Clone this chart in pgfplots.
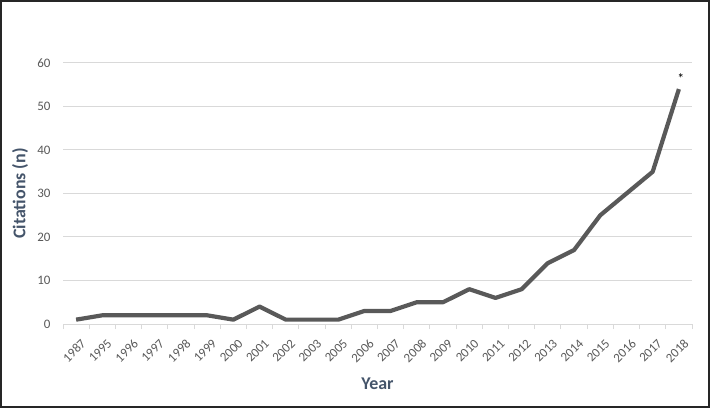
\documentclass[border=0pt]{standalone}
\usepackage{pgfplots}
\pgfplotsset{compat=1.18}
\usepackage{fontspec}
\setmainfont{Carlito}
\definecolor{linegray}{HTML}{595959}
\definecolor{gridgray}{HTML}{D9D9D9}
\definecolor{ticktext}{HTML}{595959}
\definecolor{titleblue}{HTML}{44546A}
\begin{document}
\begin{tikzpicture}
\path[use as bounding box] (0,0) rectangle (710bp,408bp);
\draw[line width=2bp, black!85] (1bp,1bp) rectangle (709bp,407bp);
\begin{axis}[
  at={(63bp,84bp)}, anchor=south west,
  scale only axis, width=629bp, height=261bp,
  xmin=-0.5, xmax=23.5, ymin=0, ymax=60,
  axis x line*=bottom, axis y line*=left,
  x axis line style={draw=gridgray, line width=1bp, -},
  y axis line style={draw=none},
  xtick={0,...,23},
  xticklabels={1987,1995,1996,1997,1998,1999,2000,2001,2002,2003,2005,2006,2007,2008,2009,2010,2011,2012,2013,2014,2015,2016,2017,2018},
  minor xtick={-0.5,0.5,...,23.5},
  major tick length=0pt,
  minor tick length=5bp,
  tick align=outside,
  minor x tick style={draw=gridgray, line width=1bp},
  ytick={0,10,...,60},
  ymajorgrids,
  grid style={draw=gridgray, line width=1bp},
  /pgf/number format/assume math mode=true,
  tick label style={font=\fontsize{13}{15}\selectfont, text=ticktext},
  xticklabel style={rotate=45, anchor=north east, inner sep=1bp, yshift=-12bp, xshift=-6bp},
  yticklabel style={anchor=east, xshift=-9bp},
  xlabel={Year},
  ylabel={Citations (n)},
  every axis x label/.style={at={([yshift=-60bp]axis description cs:0.5,0)}, anchor=center, font=\bfseries\fontsize{18}{20}\selectfont, text=titleblue},
  every axis y label/.style={at={([xshift=-43bp]axis description cs:0,0.5)}, rotate=90, anchor=center, font=\bfseries\fontsize{18}{20}\selectfont, text=titleblue},
  clip=false,
]
\addplot[color=linegray, line width=4.2bp, line join=round, mark=none]
coordinates {
(0,1) (1,2) (2,2) (3,2) (4,2) (5,2) (6,1) (7,4) (8,1) (9,1) (10,1) (11,3) (12,3) (13,5) (14,5) (15,8) (16,6) (17,8) (18,14) (19,17) (20,25) (21,30) (22,35) (23,54)
};
\addplot[draw=none, mark=none, nodes near coords={*}, every node near coord/.append style={font=\fontsize{14}{14}\selectfont, text=black, yshift=2bp, xshift=2bp}]
coordinates {(23,54)};
\end{axis}
\end{tikzpicture}
\end{document}
